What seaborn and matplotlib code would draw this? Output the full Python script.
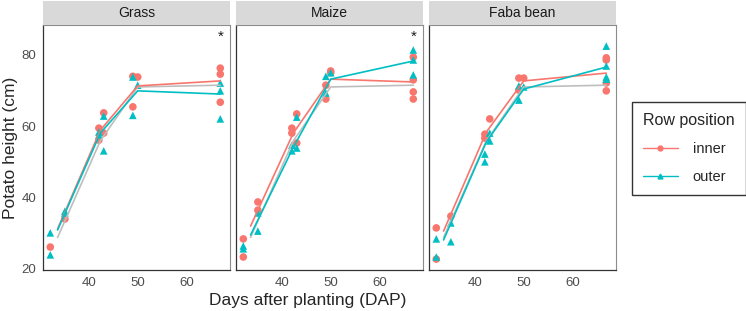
import pandas as pd
import seaborn as sns
import matplotlib.pyplot as plt
from matplotlib.lines import Line2D

# Daten
crops = ["Grass", "Maize", "Faba bean"]

grass_inner_days = [32, 35, 42, 42, 43, 43, 49, 49, 50, 67, 67, 67]
grass_inner_vals = [25.9, 33.8, 59.4, 56.0, 63.7, 58.0, 74.0, 65.4, 73.8, 76.3, 74.6, 66.7]
grass_outer_days = [32, 32, 35, 35, 42, 42, 43, 43, 49, 49, 50, 67, 67, 67]
grass_outer_vals = [29.9, 23.7, 36.0, 35.5, 58.3, 57.5, 62.8, 53.0, 73.8, 63.0, 71.5, 72.1, 69.9, 62.0]

maize_inner_days = [32, 32, 35, 35, 42, 42, 43, 43, 49, 49, 50, 50, 67, 67, 67, 67]
maize_inner_vals = [28.2, 23.1, 38.6, 36.3, 59.4, 58.0, 63.4, 55.2, 71.5, 67.6, 75.5, 75.0, 79.4, 73.0, 69.6, 67.6]
maize_outer_days = [32, 32, 35, 35, 42, 42, 43, 43, 49, 49, 50, 67, 67, 67]
maize_outer_vals = [26.2, 25.4, 35.5, 30.4, 54.6, 53.0, 62.5, 53.8, 74.0, 69.3, 75.0, 81.4, 78.6, 74.4]

faba_inner_days = [32, 32, 35, 42, 42, 43, 49, 49, 50, 67, 67, 67, 67]
faba_inner_vals = [31.3, 22.5, 34.6, 57.7, 56.6, 62.0, 73.5, 70.1, 73.5, 79.2, 78.6, 72.1, 69.9]
faba_outer_days = [32, 32, 35, 35, 42, 42, 43, 43, 49, 49, 50, 67, 67, 67, 67]
faba_outer_vals = [28.2, 23.1, 32.7, 27.4, 52.1, 49.9, 58.0, 55.8, 71.3, 67.3, 71.0, 82.5, 76.9, 73.8, 73.2]

# Angepasste Linien
fit_days = [33.5, 42.3, 50, 67]
grass_inner_fit = [31.0, 58.8, 71.3, 72.7]
grass_outer_fit = [30.7, 58.0, 69.9, 69.0]
maize_inner_fit = [31.8, 58.0, 73.2, 72.4]
maize_outer_fit = [29.3, 54.0, 73.2, 78.3]
faba_inner_fit = [30.4, 58.3, 72.7, 74.9]
faba_outer_fit = [27.9, 55.5, 70.4, 76.6]
overall_fit = [28.6, 55.8, 71.0, 71.5]

# Signifikanz-Stern
star_crops = ["Grass", "Maize"]
star_day = 67
star_val = 85.2

points = {
    "Grass": [(grass_inner_days, grass_inner_vals, "inner"), (grass_outer_days, grass_outer_vals, "outer")],
    "Maize": [(maize_inner_days, maize_inner_vals, "inner"), (maize_outer_days, maize_outer_vals, "outer")],
    "Faba bean": [(faba_inner_days, faba_inner_vals, "inner"), (faba_outer_days, faba_outer_vals, "outer")],
}
fits = {
    "Grass": [(grass_inner_fit, "inner"), (grass_outer_fit, "outer")],
    "Maize": [(maize_inner_fit, "inner"), (maize_outer_fit, "outer")],
    "Faba bean": [(faba_inner_fit, "inner"), (faba_outer_fit, "outer")],
}

rows = []
for crop, groups in points.items():
    for days, vals, pos in groups:
        for d, v in zip(days, vals):
            rows.append({"crop": crop, "DAP": d, "height": v, "position": pos})
df = pd.DataFrame(rows)

fit_rows = []
for crop, groups in fits.items():
    for vals, pos in groups:
        for d, v in zip(fit_days, vals):
            fit_rows.append({"crop": crop, "DAP": d, "height": v, "position": pos})
df_fit = pd.DataFrame(fit_rows)
df_all = pd.DataFrame({"DAP": fit_days, "height": overall_fit})

farben = {"inner": "#F8766D", "outer": "#00BFC4"}
marker = {"inner": "o", "outer": "^"}

sns.set_style("white")
plt.rcParams["font.family"] = ["Liberation Sans", "DejaVu Sans"]

fig = plt.figure(figsize=(7.46, 3.11), dpi=100)
W, H = 746, 311
left0, pitch, pw = 43, 193, 187
top, bottom = 25, 270

for i, crop in enumerate(crops):
    x0 = left0 + i * pitch
    ax = fig.add_axes([x0 / W, (H - bottom) / H, pw / W, (bottom - top) / H])
    sns.lineplot(data=df_all, x="DAP", y="height", color="#BEBEBE", lw=1.2, ax=ax)
    sub_fit = df_fit[df_fit.crop == crop]
    sns.lineplot(data=sub_fit, x="DAP", y="height", hue="position", palette=farben,
                 lw=1.2, ax=ax, legend=False)
    sub = df[df.crop == crop]
    sns.scatterplot(data=sub, x="DAP", y="height", hue="position", style="position",
                    markers=marker, palette=farben, s=30, linewidth=0, ax=ax, legend=False)
    if crop in star_crops:
        ax.text(star_day, star_val, "*", ha="center", va="center", fontsize=11, color="#1A1A1A")
    ax.set_xlim(30.5, 69.0)
    ax.set_ylim(19.44, 88.45)
    ax.set_xticks([40, 50, 60])
    ax.set_yticks([20, 40, 60, 80])
    ax.set_xlabel("")
    ax.set_ylabel("")
    ax.tick_params(axis="both", length=3, width=0.8, color="#333333",
                   labelsize=9.5, labelcolor="#4D4D4D", pad=2)
    if i > 0:
        ax.tick_params(axis="y", left=False, labelleft=False)
    for side in ["top", "right"]:
        ax.spines[side].set_color("#8C8C8C")
        ax.spines[side].set_linewidth(0.8)
    for side in ["left", "bottom"]:
        ax.spines[side].set_color("#333333")
        ax.spines[side].set_linewidth(0.9)

    # Streifen mit Facettentitel
    sax = fig.add_axes([x0 / W, (H - top) / H, pw / W, 24 / H])
    sax.set_facecolor("#D9D9D9")
    sax.set_xticks([])
    sax.set_yticks([])
    for s in sax.spines.values():
        s.set_visible(False)
    sax.text(0.5, 0.5, crop, ha="center", va="center", fontsize=10, color="#1A1A1A",
             transform=sax.transAxes)

fig.text((left0 + 2 * pitch + pw) / 2 / W, 10 / H, "Days after planting (DAP)",
         ha="center", va="center", fontsize=12.5)
fig.text(11 / W, (H - (top + bottom) / 2) / H, "Potato height (cm)", rotation=90,
         ha="center", va="center", fontsize=12.5)

handles = [Line2D([0], [0], color=farben[p], marker=marker[p], lw=1.0, markersize=3.5)
           for p in ["inner", "outer"]]
leg = fig.legend(handles, ["inner", "outer"], title="Row position", loc="upper left",
                 bbox_to_anchor=(632 / W, (H - 102) / H), frameon=True, fontsize=10.5,
                 title_fontsize=11.5, handlelength=2.4, borderpad=0.75, labelspacing=0.95,
                 handletextpad=1.0, borderaxespad=0.0, fancybox=False, edgecolor="black")
leg.get_frame().set_linewidth(1.0)
leg._legend_box.align = "left"

plt.savefig("out.png", dpi=100)
